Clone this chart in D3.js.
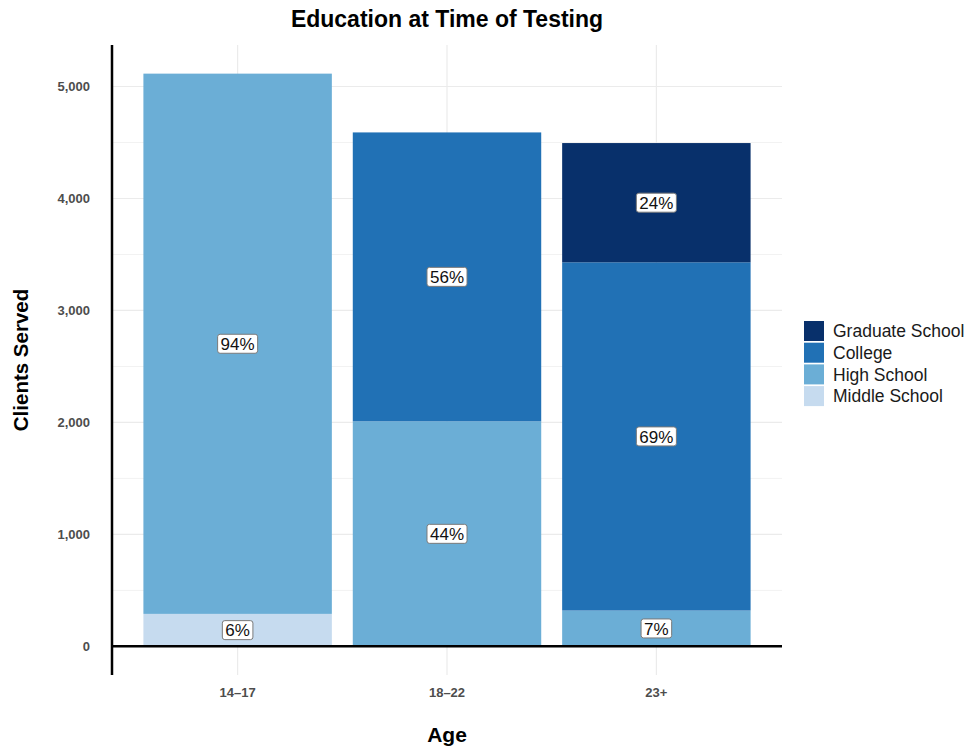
<!DOCTYPE html>
<html>
<head>
<meta charset="utf-8">
<script src="https://cdn.jsdelivr.net/npm/d3@7"></script>
<style>
  html, body { margin: 0; padding: 0; background: #fff; }
  svg { display: block; font-family: "Liberation Sans", Arial, Helvetica, sans-serif; }
</style>
</head>
<body>
<svg id="chart" width="970" height="749"></svg>
<script>
// Age groups and education levels (stacked bottom to top)
const ageGroups = ["14–17", "18–22", "23+"];
const levels = ["Middle School", "High School", "College", "Graduate School"];
const levelColors = ["#c6dbef", "#6baed6", "#2171b5", "#08306b"];

// Clients served per education level, one value per age group
const middleSchool   = [290, 0, 0];
const highSchool     = [4825, 2010, 320];
const college        = [0, 2580, 3110];
const graduateSchool = [0, 0, 1065];

const yTicks = [0, 1000, 2000, 3000, 4000, 5000];
const yMinorTicks = [500, 1500, 2500, 3500, 4500];

const rows = ageGroups.map((age, i) => ({
  age,
  "Middle School": middleSchool[i],
  "High School": highSchool[i],
  "College": college[i],
  "Graduate School": graduateSchool[i]
}));
rows.forEach(r => { r.total = levels.reduce((s, k) => s + r[k], 0); });

const svg = d3.select("#chart");
const panel = { left: 112, right: 782, top: 45, bottom: 675 };

const maxTotal = d3.max(rows, r => r.total);
const y = d3.scaleLinear()
  .domain([-0.05 * maxTotal, 1.05 * maxTotal])
  .range([panel.bottom, panel.top]);

const x = d3.scaleBand()
  .domain(ageGroups)
  .range([panel.left, panel.right])
  .paddingInner(0.1)
  .paddingOuter(0.15);

const color = d3.scaleOrdinal().domain(levels).range(levelColors);

// Grid
const grid = svg.append("g");
grid.selectAll(".minor").data(yMinorTicks).join("line")
  .attr("x1", panel.left).attr("x2", panel.right)
  .attr("y1", d => y(d)).attr("y2", d => y(d))
  .attr("stroke", "#f2f2f2").attr("stroke-width", 1);
grid.selectAll(".major").data(yTicks).join("line")
  .attr("x1", panel.left).attr("x2", panel.right)
  .attr("y1", d => y(d)).attr("y2", d => y(d))
  .attr("stroke", "#ebebeb").attr("stroke-width", 1.2);
grid.selectAll(".vmajor").data(ageGroups).join("line")
  .attr("x1", d => x(d) + x.bandwidth() / 2).attr("x2", d => x(d) + x.bandwidth() / 2)
  .attr("y1", panel.top).attr("y2", panel.bottom)
  .attr("stroke", "#ebebeb").attr("stroke-width", 1.2);

// Stacked bars
const series = d3.stack().keys(levels)(rows);
const segs = svg.append("g");
series.forEach(s => {
  segs.selectAll(null).data(s.filter(d => d[1] - d[0] > 0)).join("rect")
    .attr("x", d => x(d.data.age))
    .attr("width", x.bandwidth())
    .attr("y", d => y(d[1]))
    .attr("height", d => y(d[0]) - y(d[1]))
    .attr("fill", color(s.key));
});

// Percentage labels
const labels = svg.append("g");
series.forEach(s => {
  s.filter(d => d[1] - d[0] > 0).forEach(d => {
    const pct = Math.round((d[1] - d[0]) / d.data.total * 100) + "%";
    const cx = x(d.data.age) + x.bandwidth() / 2;
    const cy = y((d[0] + d[1]) / 2);
    const g = labels.append("g").attr("transform", `translate(${cx},${cy})`);
    const t = g.append("text")
      .attr("text-anchor", "middle")
      .attr("dy", "0.36em")
      .attr("font-size", 17)
      .attr("fill", "#111")
      .text(pct);
    const w = t.node().getComputedTextLength() + 6;
    g.insert("rect", "text")
      .attr("x", -w / 2).attr("y", -9.5)
      .attr("width", w).attr("height", 19)
      .attr("rx", 2.5)
      .attr("fill", "#fff")
      .attr("stroke", "#7a7a7a").attr("stroke-width", 1);
  });
});

// Axis lines
svg.append("line")
  .attr("x1", panel.left).attr("x2", panel.right)
  .attr("y1", y(0)).attr("y2", y(0))
  .attr("stroke", "#000").attr("stroke-width", 2.5);
svg.append("line")
  .attr("x1", panel.left).attr("x2", panel.left)
  .attr("y1", panel.top).attr("y2", panel.bottom)
  .attr("stroke", "#000").attr("stroke-width", 2.5);

// Y tick labels
const yAxis = d3.axisLeft(y).tickValues(yTicks).tickSize(0).tickPadding(22)
  .tickFormat(d3.format(","));
svg.append("g").attr("transform", `translate(${panel.left},0)`).call(yAxis)
  .call(g => g.select(".domain").remove())
  .call(g => g.selectAll("text")
    .attr("font-family", "Liberation Sans, Arial, sans-serif")
    .attr("font-size", 13).attr("font-weight", "bold").attr("fill", "#4d4d4d"));

// X tick labels
const xAxis = d3.axisBottom(x).tickSize(0).tickPadding(41);
svg.append("g").attr("transform", `translate(0,${y(0)})`).call(xAxis)
  .call(g => g.select(".domain").remove())
  .call(g => g.selectAll("text")
    .attr("font-family", "Liberation Sans, Arial, sans-serif")
    .attr("font-size", 13).attr("font-weight", "bold").attr("fill", "#4d4d4d"));

// Titles
const midX = (panel.left + panel.right) / 2;
svg.append("text").attr("x", midX).attr("y", 27)
  .attr("text-anchor", "middle").attr("font-size", 23).attr("font-weight", "bold")
  .attr("fill", "#000").text("Education at Time of Testing");
svg.append("text").attr("x", midX).attr("y", 742)
  .attr("text-anchor", "middle").attr("font-size", 21).attr("font-weight", "bold")
  .attr("fill", "#000").text("Age");
svg.append("text")
  .attr("transform", `translate(28,${(panel.top + panel.bottom) / 2}) rotate(-90)`)
  .attr("text-anchor", "middle").attr("font-size", 20.5).attr("font-weight", "bold")
  .attr("fill", "#000").text("Clients Served");

// Legend (top level first)
const legend = svg.append("g").attr("transform", "translate(804,321)");
const legendItems = levels.slice().reverse();
legendItems.forEach((lv, i) => {
  const g = legend.append("g").attr("transform", `translate(0,${i * 21.7})`);
  g.append("rect").attr("width", 20).attr("height", 20).attr("fill", color(lv));
  g.append("text").attr("x", 29).attr("y", 10).attr("dy", "0.35em")
    .attr("font-size", 17.5).attr("fill", "#1a1a1a").text(lv);
});
</script>
</body>
</html>
